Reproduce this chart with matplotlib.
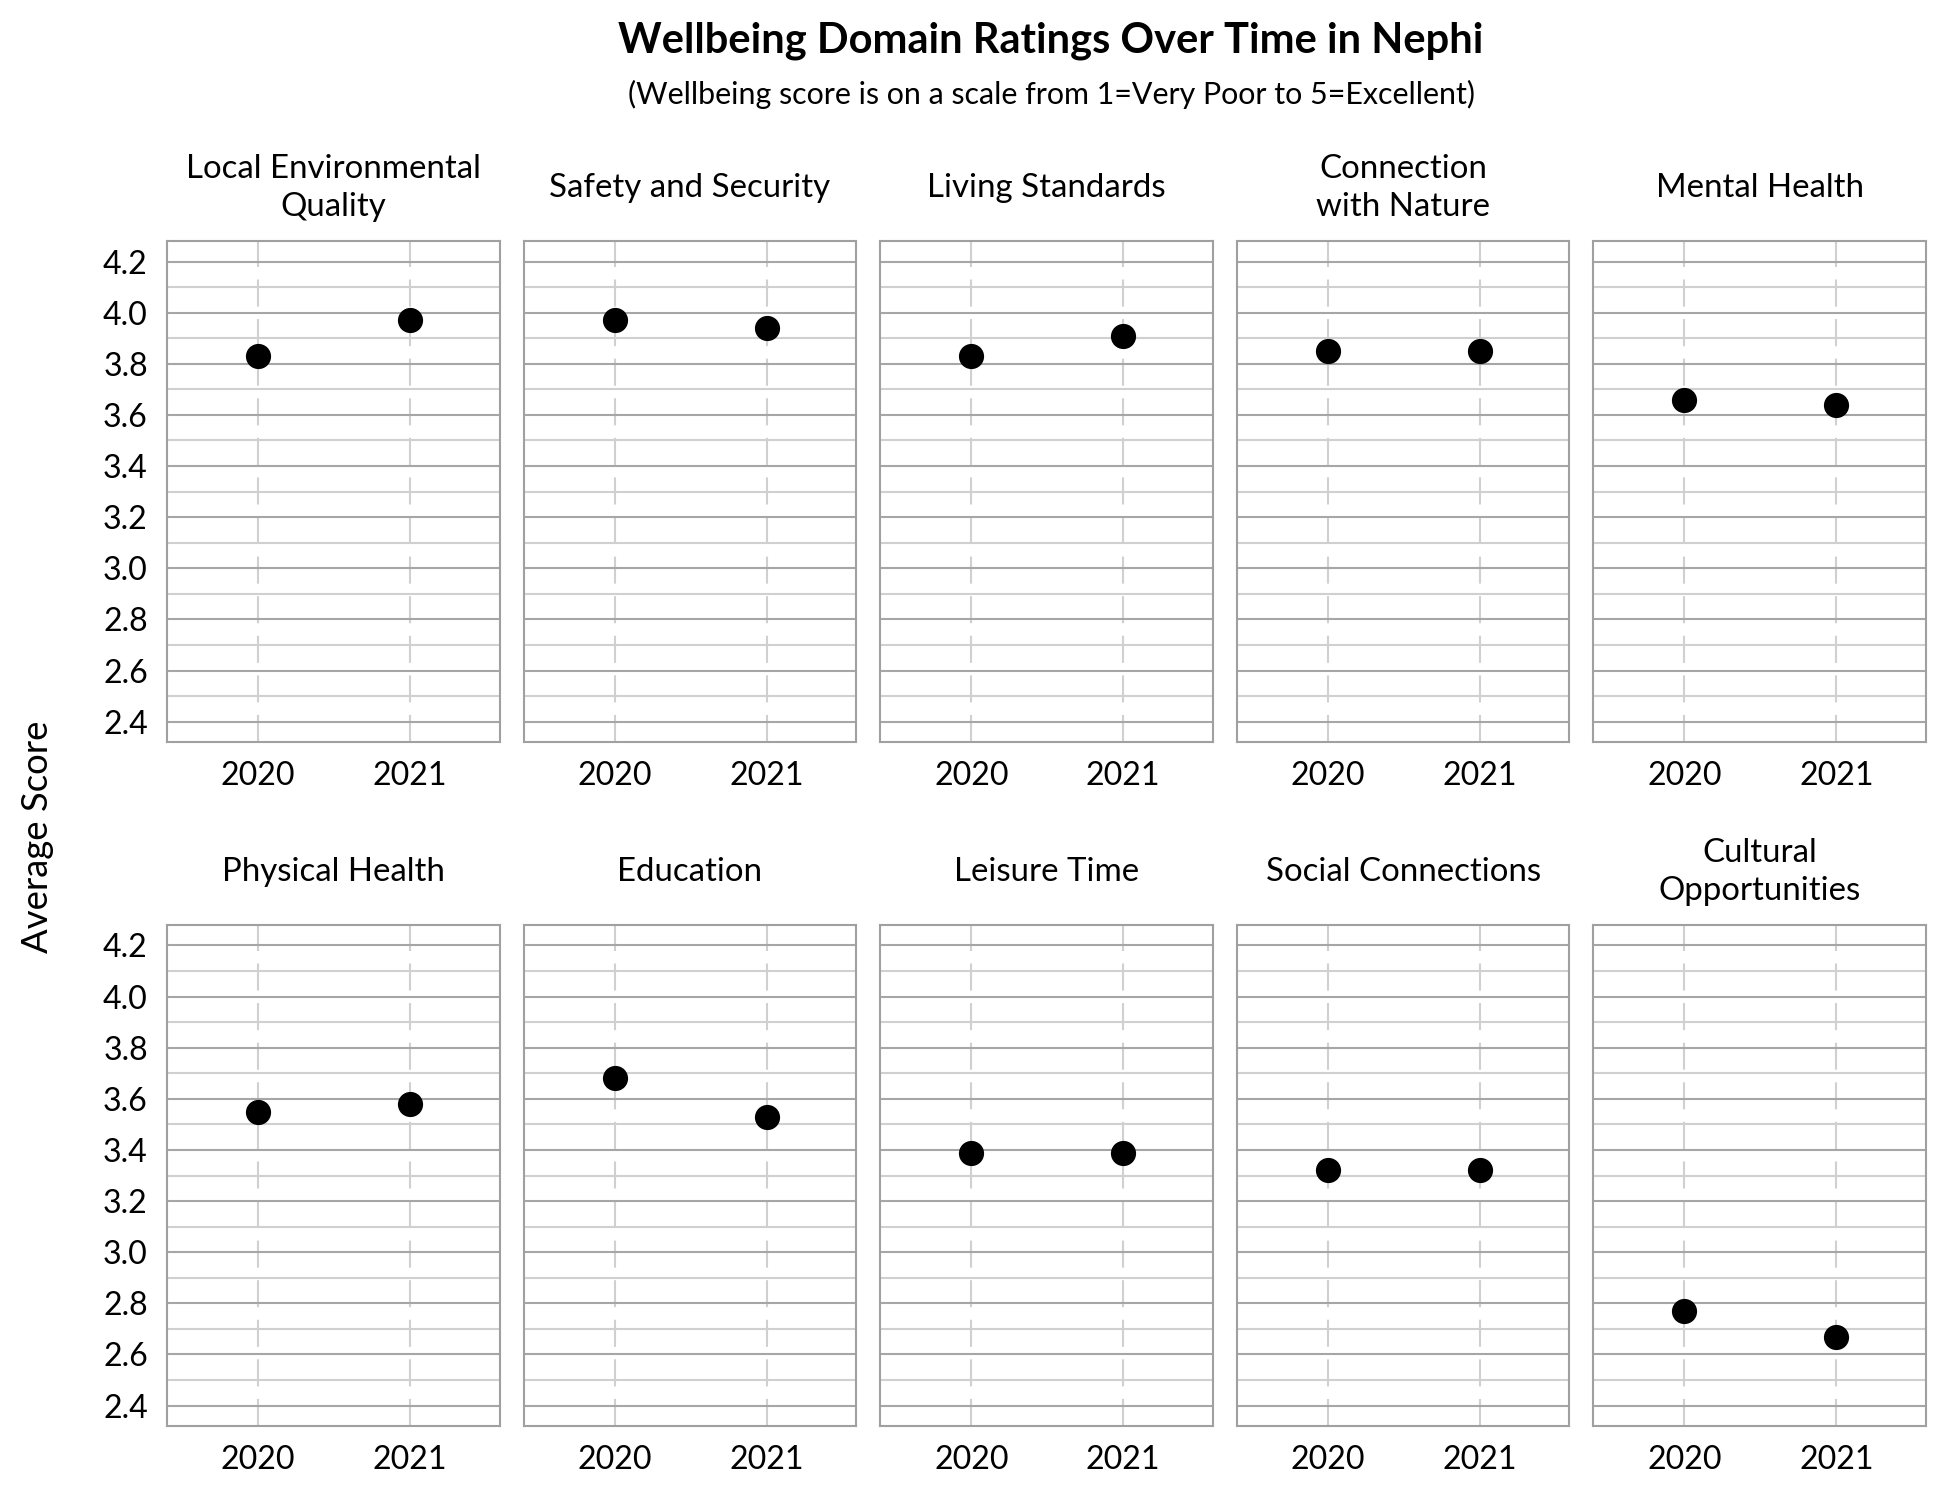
import matplotlib
matplotlib.use("Agg")
import matplotlib.pyplot as plt
from matplotlib.ticker import MultipleLocator

plt.rcParams['font.family'] = ['Lato', 'DejaVu Sans']

years = ["2020", "2021"]
domains = [
    "Local Environmental\nQuality", "Safety and Security", "Living Standards",
    "Connection\nwith Nature", "Mental Health",
    "Physical Health", "Education", "Leisure Time", "Social Connections",
    "Cultural\nOpportunities",
]
scores_2020 = [3.83, 3.97, 3.83, 3.85, 3.66, 3.55, 3.68, 3.39, 3.32, 2.77]
scores_2021 = [3.97, 3.94, 3.91, 3.85, 3.64, 3.58, 3.53, 3.39, 3.32, 2.67]
y_ticks = [2.4, 2.6, 2.8, 3.0, 3.2, 3.4, 3.6, 3.8, 4.0, 4.2]

fig, axes = plt.subplots(2, 5, figsize=(15.6, 12), dpi=125, sharey=True)
plt.subplots_adjust(left=0.0856, right=0.9877, top=0.8393, bottom=0.0493,
                    wspace=0.072, hspace=0.365)

for i, ax in enumerate(axes.flat):
    ax.plot([0, 1], [scores_2020[i], scores_2021[i]], 'o', color='black',
            markersize=13.5, zorder=5)
    ax.set_xlim(-0.6, 1.59)
    ax.set_ylim(2.32, 4.28)
    ax.set_xticks([0, 1])
    ax.set_xticklabels(years)
    ax.set_yticks(y_ticks)
    ax.set_yticklabels([f"{v:.1f}" for v in y_ticks])
    ax.yaxis.set_minor_locator(MultipleLocator(0.1))
    ax.grid(which='major', axis='y', color='#a6a6a6', linewidth=1.2)
    ax.grid(which='minor', axis='y', color='#d0d0d0', linewidth=1.2)
    ax.grid(which='major', axis='x', color='#d0d0d0', linewidth=1.2,
            dashes=(13, 6))
    ax.set_axisbelow(True)
    ax.tick_params(which='both', length=0, labelsize=18.5, pad=11)
    for s in ax.spines.values():
        s.set_color('#a0a0a0')
        s.set_linewidth(1.2)
    ax.text(0.5, 1.106, domains[i], transform=ax.transAxes, ha='center',
            va='center', fontsize=19, linespacing=1.35)

fig.text(0.539, 0.973, "Wellbeing Domain Ratings Over Time in Nephi",
         ha='center', va='center', fontsize=24, fontweight='bold')
fig.text(0.539, 0.937, "(Wellbeing score is on a scale from 1=Very Poor to 5=Excellent)",
         ha='center', va='center', fontsize=17.5)
fig.text(0.019, 0.442, "Average Score", rotation=90, ha='center',
         va='center', fontsize=21)

plt.savefig("out.png")
